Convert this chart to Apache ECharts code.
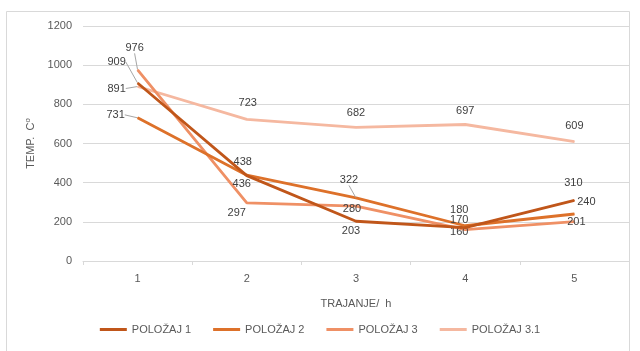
<!DOCTYPE html>
<html><head><meta charset="utf-8">
<script src="https://cdn.jsdelivr.net/npm/echarts@6/dist/echarts.min.js"></script>
<style>html,body{margin:0;padding:0;background:#fff}#c{width:640px;height:351px}</style>
</head><body><div id="c"></div>
<script>
const categories = ['1', '2', '3', '4', '5'];
const seriesNames = ['POLOŽAJ 1', 'POLOŽAJ 2', 'POLOŽAJ 3', 'POLOŽAJ 3.1'];
const polozaj1 = [909, 436, 203, 170, 310];
const polozaj2 = [731, 438, 322, 180, 240];
const polozaj3 = [976, 297, 280, 160, 201];
const polozaj31 = [891, 723, 682, 697, 609];
const yTicks = [0, 200, 400, 600, 800, 1000, 1200];

const colors = ['#C0561A', '#DD712A', '#EF9065', '#F5B8A0'];
// label offsets [dx, dy] relative to each point (layout only)
const labelOffsets = [
  [[-21, -21], [-5, 8], [-5, 10], [-6, -8], [-1, -17]],
  [[-22, -3], [-4, -13], [-7, -18], [-6, -16], [12, -12]],
  [[-3, -22], [-10, 10], [-4, 3], [-6, 2], [2, 0]],
  [[-21, 2], [1, -16], [0, -14], [0, -14], [0, -16]]
];
// which labels carry a leader line
const leaderLines = [
  [true, false, false, false, false],
  [true, false, true, false, false],
  [true, false, false, false, false],
  [true, false, false, false, false]
];
const allValues = [polozaj1, polozaj2, polozaj3, polozaj31];

const chart = echarts.init(document.getElementById('c'), null, {renderer: 'canvas'});
const FONT = 'Liberation Sans';
chart.setOption({
  animation: false,
  backgroundColor: '#fff',
  textStyle: {fontFamily: FONT},
  graphic: [{type: 'rect', shape: {x: 6.5, y: 11.5, width: 623, height: 345}, style: {fill: 'none', stroke: '#d9d9d9', lineWidth: 1}, silent: true}],
  grid: {left: 83, right: 11, top: 26, bottom: 90},
  legend: {
    bottom: 11, left: 'center',
    icon: 'rect', itemWidth: 27, itemHeight: 3, itemGap: 22,
    textStyle: {color: '#595959', fontSize: 11, fontFamily: FONT},
    data: seriesNames
  },
  xAxis: {
    type: 'category', data: categories, boundaryGap: true,
    name: 'TRAJANJE/  h', nameLocation: 'middle', nameGap: 37,
    nameTextStyle: {color: '#595959', fontSize: 11, fontFamily: FONT},
    axisLine: {lineStyle: {color: '#d9d9d9'}},
    axisTick: {show: true, length: 4, lineStyle: {color: '#d9d9d9'}},
    axisLabel: {color: '#595959', fontSize: 11, margin: 12}
  },
  yAxis: {
    type: 'value', min: yTicks[0], max: yTicks[yTicks.length - 1], interval: 200,
    name: 'TEMP.  C{sup|o}', nameLocation: 'middle', nameGap: 44, nameRotate: 90,
    nameTextStyle: {color: '#595959', fontSize: 11, fontFamily: FONT,
      rich: {sup: {fontSize: 8, verticalAlign: 'top', padding: [0, 0, 6, 0], color: '#595959'}}},
    axisLine: {show: false}, axisTick: {show: false},
    axisLabel: {color: '#595959', fontSize: 11, margin: 11, formatter: v => String(v)},
    splitLine: {lineStyle: {color: '#d9d9d9'}}
  },
  series: allValues.map((vals, si) => ({
    name: seriesNames[si], type: 'line', smooth: false,
    symbol: 'circle', symbolSize: 1, showSymbol: true,
    color: colors[si],
    lineStyle: {width: 2.8, color: colors[si]},
    itemStyle: {color: colors[si]},
    z: 10 - si,
    label: {show: true, position: 'inside', color: '#404040', fontSize: 11, fontFamily: FONT},
    labelLine: {show: false, lineStyle: {color: '#a6a6a6', width: 1}},
    labelLayout: p => ({dx: labelOffsets[si][p.dataIndex][0], dy: labelOffsets[si][p.dataIndex][1]}),
    data: vals.map((v, i) => ({value: v, labelLine: {show: leaderLines[si][i]}}))
  }))
});
</script></body></html>
